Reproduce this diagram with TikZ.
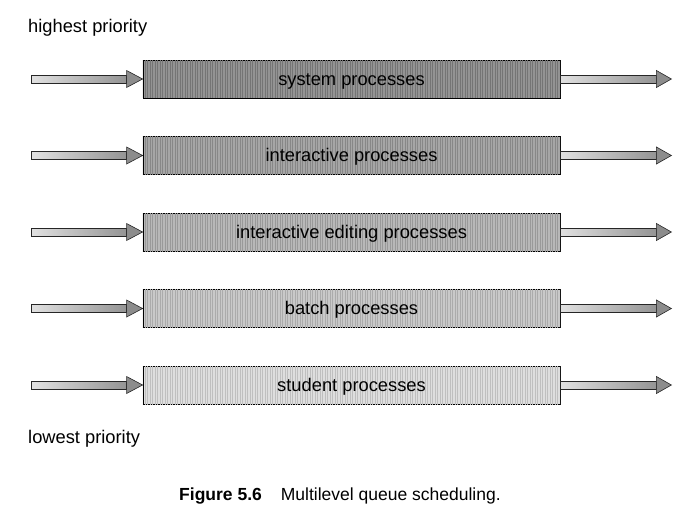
\documentclass[tikz,border=0pt]{standalone}
\usepackage{fontspec}
\setmainfont{Liberation Sans}
\usetikzlibrary{calc,patterns.meta}

\tikzstyle{queue} = [rectangle,draw=black,line width=0.8pt,minimum width=417pt,minimum height=38pt,inner sep=0pt,anchor=center,text height=12.5pt,text depth=0.5pt,font=\fontsize{18.3}{22}\selectfont]
\tikzset{hatch/.style={postaction={pattern={Lines[angle=90,distance=2.5pt,line width=0.4pt]},pattern color=#1}}}
\tikzstyle{queue1} = [queue,fill=black!42,hatch=black!54]
\tikzstyle{queue2} = [queue,fill=black!35,hatch=black!47]
\tikzstyle{queue3} = [queue,fill=black!28,hatch=black!40]
\tikzstyle{queue4} = [queue,fill=black!21,hatch=black!33]
\tikzstyle{queue5} = [queue,fill=black!13,hatch=black!25]
\tikzstyle{shaft} = [draw=black!85,line width=0.6pt,left color=black!12,right color=black!42]
\tikzstyle{head} = [draw=black!85,line width=0.6pt,fill=black!45,line join=miter]
\tikzstyle{label} = [font=\fontsize{18.3}{22}\selectfont,anchor=base west,inner sep=0pt]

\begin{document}
\begin{tikzpicture}[x=1pt,y=-1pt]
	\useasboundingbox (0,0) rectangle (690,522);

	\matrix (m) at (351.5,232) [row sep=37.7pt,column sep=111pt] {
		\coordinate (in1); &
		\node (q1) [queue1] {system processes}; &
		\coordinate (out1); \\
		\coordinate (in2); &
		\node (q2) [queue2] {interactive processes}; &
		\coordinate (out2); \\
		\coordinate (in3); &
		\node (q3) [queue3] {interactive editing processes}; &
		\coordinate (out3); \\
		\coordinate (in4); &
		\node (q4) [queue4] {batch processes}; &
		\coordinate (out4); \\
		\coordinate (in5); &
		\node (q5) [queue5] {student processes}; &
		\coordinate (out5); \\
	};

	% arrows in and out of each queue
	\foreach \i in {1,...,5} {
		\filldraw[shaft] ($(in\i)+(0,-4)$) rectangle ($(q\i.west)+(-16,4)$);
		\filldraw[head] ($(q\i.west)+(-16,-8.5)$) -- (q\i.west) -- ($(q\i.west)+(-16,8.5)$) -- cycle;
		\filldraw[shaft] ($(q\i.east)+(0,-4)$) rectangle ($(out\i)+(-15,4)$);
		\filldraw[head] ($(out\i)+(-15,-8.5)$) -- (out\i) -- ($(out\i)+(-15,8.5)$) -- cycle;
	}

	\node (high) [label] at (28,32.7) {highest priority};
	\node (low) [label] at (28,443) {lowest priority};
	\node (caption) [font=\fontsize{17.5}{21}\selectfont,anchor=base,inner sep=0pt] at (340,500) {\textbf{Figure 5.6}\hspace{19pt}Multilevel queue scheduling.};

\end{tikzpicture}
\end{document}
